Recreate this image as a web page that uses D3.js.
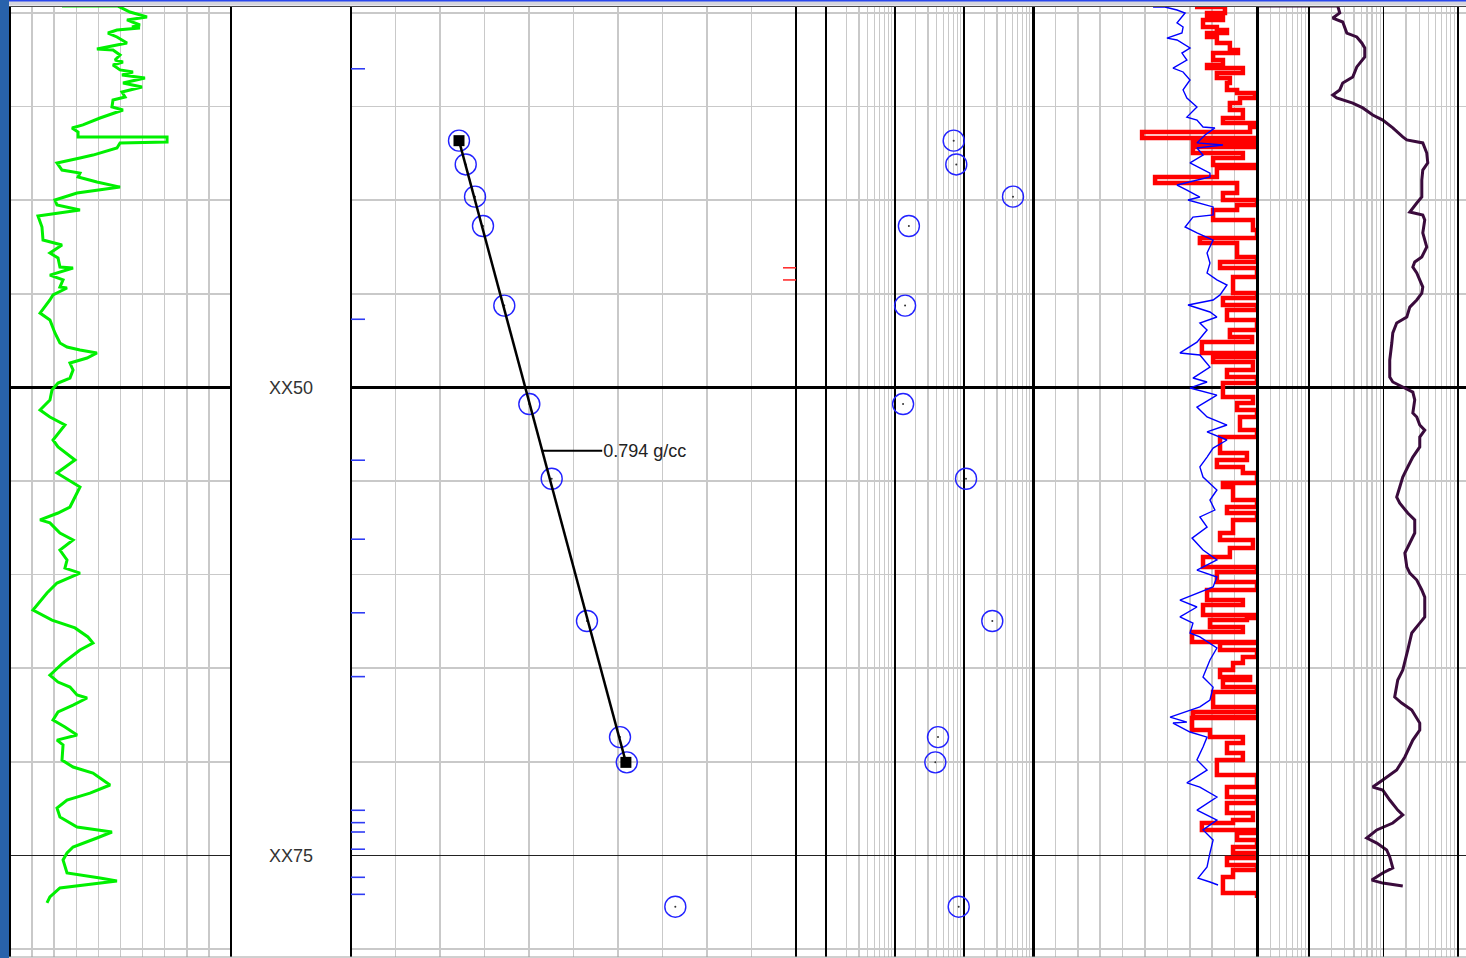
<!DOCTYPE html>
<html>
<head>
<meta charset="utf-8">
<script src="https://cdn.jsdelivr.net/npm/d3@7"></script>
<style>
  html, body { margin: 0; padding: 0; background: #fff; overflow: hidden; }
  svg { display: block; }
</style>
</head>
<body>
<svg id="log" width="1466" height="958"></svg>
<script>
// ---------- data ----------
// depth reference lines (m) and the depth-track labels
const gridDepths = [30, 35, 40, 45, 50, 55, 60, 65, 70, 75, 80];
const labelDepths = [50, 75];
const labelTexts = ["XX50", "XX75"];

// formation tester stations: depth (m), formation pressure (psi), mobility (md/cP)
const testDepth = [36.82, 38.09, 39.81, 41.38, 45.63, 50.89, 54.88, 62.48, 68.68, 70.03, 77.74];
const testPressure = [4024.27, 4025.78, 4027.87, 4029.66, 4034.45, 4040.07, 4045.10, 4053.03, 4060.45, 4061.97, 4072.88];
const testMobility = [70.9, 77.3, 513, 15.9, 14.0, 13.1, 107, 257, 42.0, 38.4, 83.8];

// fluid gradient fitted through stations 1..10
const gradientGcc = 0.794;
const fitFirst = 0, fitLast = 9;

// tool depth flags along the pressure track
const blueFlagDepths = [32.98, 46.36, 53.89, 58.11, 62.04, 65.45, 72.59, 73.25, 73.75, 74.67, 76.17, 77.08];
const redFlagDepths = [43.61, 44.26];

// gamma ray [depth, API]
const gammaRay = [
  [29.63,35.3],[29.63,73.3],[29.95,81.4],[30.21,93.0],[30.37,79.4],[30.64,88.2],[30.75,82.8],[30.80,88.2],
  [30.91,72.6],[31.07,66.5],[31.28,72.6],[31.60,79.4],[31.92,59.0],[31.98,69.9],[32.24,74.7],[32.51,71.3],
  [32.62,76.7],[32.78,69.9],[33.04,74.7],[33.15,83.5],[33.31,76.0],[33.47,91.6],[33.74,76.7],[33.95,89.6],
  [34.22,76.0],[34.49,78.1],[34.65,69.9],[35.02,69.2],[35.18,76.7],[35.61,61.1],[35.98,49.5],[36.14,42.1],
  [36.36,46.2],[36.62,46.2],[36.62,106.6],[36.89,106.6],[36.94,74.7],[37.21,72.6],[37.59,56.3],[37.75,47.5],
  [38.01,31.9],[38.39,35.3],[38.55,47.5],[38.76,46.2],[39.03,59.0],[39.30,74.7],[39.62,45.5],[39.99,30.5],
  [40.26,31.9],[40.52,47.5],[40.84,19.0],[41.43,21.7],[42.13,22.4],[42.39,35.3],[42.82,27.1],[43.09,32.6],
  [43.57,33.9],[43.62,42.8],[44.00,27.1],[44.26,36.0],[44.64,33.9],[44.69,38.7],[45.06,29.2],[45.33,27.1],
  [46.03,20.4],[46.40,27.1],[47.09,30.5],[47.63,33.9],[47.84,38.7],[48.00,47.5],[48.16,59.0],[48.43,52.3],
  [48.70,40.7],[49.07,42.8],[49.50,40.7],[49.77,32.6],[50.14,28.5],[50.67,27.1],[51.21,20.4],[51.58,27.1],
  [52.01,37.3],[52.81,29.2],[53.18,32.6],[53.88,44.1],[54.57,31.9],[55.32,47.5],[56.39,40.7],[56.71,32.6],
  [57.08,20.4],[57.24,27.1],[57.78,33.9],[58.15,42.8],[58.69,33.9],[59.22,38.7],[59.65,37.3],[59.92,47.5],
  [60.45,31.9],[60.98,25.1],[61.89,15.6],[62.43,28.5],[62.85,44.1],[63.33,52.9],[63.66,56.3],[64.03,47.5],
  [64.72,36.0],[65.37,27.1],[65.74,32.6],[66.01,40.7],[66.43,45.5],[66.59,52.3],[66.97,42.8],[67.34,32.6],
  [67.77,29.2],[68.14,37.3],[68.57,45.5],[68.84,31.9],[69.10,36.0],[69.91,35.3],[70.28,42.8],[70.60,56.3],
  [71.24,67.9],[71.67,54.3],[72.04,38.7],[72.47,31.9],[72.95,33.9],[73.48,45.5],[73.75,69.2],[74.07,59.0],
  [74.55,42.8],[74.87,38.7],[75.24,36.0],[75.94,38.7],[76.21,61.1],[76.37,72.6],[76.74,33.9],[77.22,27.1],
  [77.54,25.1]
];

// track 4, thin blue curve [depth, value]
const curveBlue = [
  [29.68,53.6],[29.68,58.9],[29.84,64.3],[30.00,67.9],[30.53,64.3],[30.75,67.0],[31.07,66.5],[31.34,59.8],
  [31.44,64.3],[31.87,70.1],[32.14,66.5],[32.51,68.7],[32.94,62.5],[33.15,67.0],[33.58,70.1],[34.11,67.0],
  [34.54,68.7],[35.02,73.2],[35.56,68.7],[35.72,73.2],[36.09,75.9],[36.14,81.2],[36.52,76.8],[36.94,73.2],
  [37.05,84.8],[37.21,73.2],[37.59,75.9],[38.01,70.1],[38.55,79.0],[38.76,79.0],[39.19,64.3],[39.46,68.7],
  [39.83,74.5],[39.99,69.2],[40.36,80.4],[40.79,80.4],[40.90,71.4],[41.43,67.9],[41.75,73.2],[42.13,80.4],
  [42.82,77.7],[43.36,79.0],[43.89,77.7],[44.26,82.1],[44.53,86.6],[45.06,83.5],[45.33,80.4],[45.60,69.2],
  [45.97,79.0],[46.24,82.1],[46.56,74.5],[46.93,77.7],[47.58,73.2],[48.16,65.6],[48.27,74.5],[48.91,79.0],
  [49.50,71.4],[49.71,77.7],[50.03,70.1],[50.41,82.1],[51.05,73.2],[51.58,77.7],[52.01,86.6],[52.38,77.7],
  [52.81,86.6],[53.24,80.4],[53.72,77.7],[54.25,74.5],[54.79,75.9],[55.48,82.1],[56.02,79.0],[56.55,81.2],
  [56.92,74.5],[57.46,77.7],[58.05,71.0],[58.69,75.9],[59.22,82.1],[59.76,73.2],[60.13,82.1],[60.66,80.4],
  [61.36,65.6],[61.73,73.2],[62.26,65.6],[62.59,71.4],[63.12,70.1],[63.33,74.5],[63.92,82.1],[64.56,79.0],
  [65.47,75.9],[66.01,80.4],[66.70,79.0],[67.07,74.5],[67.61,61.2],[67.88,68.7],[67.93,62.5],[68.41,70.1],
  [68.68,77.7],[69.21,75.9],[69.90,73.2],[70.44,77.7],[71.13,68.7],[71.35,74.5],[71.88,82.1],[72.58,73.2],
  [73.11,82.1],[73.64,75.9],[74.18,80.4],[74.87,79.0],[75.62,77.7],[76.21,73.7],[76.42,79.0],[76.58,82.6]
];

// track 4, thick red curve [depth, value]
const curveRed = [
  [29.68,72.3],[29.68,80.4],[30.00,85.7],[30.21,77.7],[30.37,84.8],[30.75,75.9],[30.91,82.1],[31.07,86.6],
  [31.28,77.7],[31.60,82.1],[31.98,87.9],[32.14,91.5],[32.51,80.4],[32.78,84.8],[32.94,77.7],[33.21,93.7],
  [33.47,82.1],[33.74,87.9],[34.11,86.6],[34.27,91.1],[34.54,99.1],[34.81,92.4],[35.18,87.9],[35.61,93.7],
  [35.88,84.8],[36.09,100],[36.36,96.9],[36.68,48.7],[36.78,100],[36.94,71.4],[37.16,100],[37.48,71.4],
  [37.75,93.7],[38.12,80.4],[38.28,100],[38.76,82.1],[39.08,54.5],[39.62,91.1],[39.99,84.8],[40.26,100],
  [40.52,91.1],[41.06,80.4],[41.59,98.2],[42.02,100],[42.29,74.5],[43.03,91.1],[43.30,100],[43.62,83.5],
  [44.10,100],[44.96,89.3],[45.22,100],[45.60,84.8],[45.87,100],[46.40,86.6],[46.93,100],[47.31,87.9],
  [47.58,97.8],[48.16,75.4],[48.38,100],[48.64,80.4],[49.07,98.2],[49.45,86.6],[49.77,100],[50.51,84.8],
  [50.83,98.2],[51.21,91.1],[51.58,100],[52.28,92.4],[52.65,100],[53.50,83.5],[53.88,95.5],[54.25,82.1],
  [54.57,93.7],[55.11,100],[55.32,84.8],[56.02,89.3],[56.39,100],[56.71,86.6],[57.08,100],[57.78,89.3],
  [58.15,83.5],[58.58,98.2],[59.06,87.9],[59.59,75.9],[59.86,100],[60.40,82.1],[60.82,100],[61.36,77.7],
  [61.62,93.7],[62.16,75.9],[62.32,100],[62.43,95.5],[62.80,79.0],[63.07,93.7],[63.60,71.0],[63.66,100],
  [64.03,83.5],[64.40,100],[64.72,93.7],[65.10,89.3],[65.47,83.5],[65.63,96.9],[66.01,84.8],[66.27,100],
  [67.07,80.4],[67.34,100],[67.61,71.4],[67.66,100],[68.30,71.0],[68.68,79.0],[69.00,93.7],[69.53,86.6],
  [69.90,93.7],[70.71,82.1],[71.35,100],[71.88,86.6],[72.20,100],[72.74,86.6],[73.11,98.2],[73.27,89.3],
  [73.64,75.4],[73.80,100],[74.18,91.1],[74.55,100],[74.87,89.3],[75.14,100],[75.51,86.6],[75.78,100],
  [76.16,89.3],[77.01,84.8],[77.28,100]
];

// track 5, resistivity [depth, ohm.m]
const resistivity = [
  [29.63,2.0],[29.63,24.3],[30.00,25.8],[30.27,20.8],[30.48,28.3],[31.07,32.1],[31.28,43.7],[31.60,51.0],
  [31.87,55.9],[32.35,55.9],[32.88,43.7],[33.42,38.6],[33.74,28.3],[34.11,25.8],[34.38,20.8],[34.54,23.5],
  [34.81,38.6],[35.07,52.6],[35.45,71.6],[35.72,97.5],[36.14,133],[36.62,181],[36.78,205],[36.94,336],
  [37.48,380],[38.01,392],[38.39,336],[38.92,326],[39.83,326],[40.15,279],[40.63,225],[40.79,336],
  [41.06,357],[41.75,336],[42.50,380],[43.03,326],[43.30,262],[43.57,247],[43.89,279],[44.64,336],
  [44.96,326],[45.33,279],[45.71,225],[46.24,205],[46.56,150],[47.09,133],[47.63,129],[48.54,121],
  [49.45,121],[49.71,133],[49.98,181],[50.25,247],[50.67,262],[51.37,247],[51.58,279],[52.01,306],
  [52.28,357],[52.65,306],[53.18,306],[53.72,247],[54.25,211],[54.79,181],[55.32,165],[55.86,150],
  [56.18,165],[56.71,211],[57.08,262],[57.78,262],[58.31,225],[58.85,193],[59.59,205],[59.92,225],
  [60.29,279],[60.82,326],[61.20,357],[61.89,357],[62.26,357],[62.59,306],[63.12,239],[64.03,211],
  [65.10,181],[65.63,155],[66.54,141],[66.86,175],[67.23,239],[67.93,306],[68.30,306],[68.84,247],
  [69.74,193],[70.44,150],[70.97,97.5],[71.35,71.6],[71.51,97.5],[72.04,121],[72.58,155],[72.84,181],
  [73.27,133],[73.64,81.1],[74.07,59.5],[74.34,81.1],[74.71,110],[75.08,121],[75.67,133],[75.94,97.5],
  [76.32,69.5],[76.48,97.5],[76.64,181]
];

// ---------- layout ----------
const svg = d3.select("#log");
const W = 1466, H = 958;
const TOP = 6.5, BOTTOM = 957;

const y = d3.scaleLinear().domain([30, 80]).range([13, 949]);
const xGR = d3.scaleLinear().domain([0, 150]).range([10, 231]);
const xP = d3.scaleLinear().domain([4000, 4100]).range([351, 796]);
const xMob = d3.scaleLog().domain([1, 1000]).range([826, 1033]);
const xT4 = d3.scaleLinear().domain([0, 100]).range([1033, 1257]);
const xRes = d3.scaleLog().domain([2, 2000]).range([1257, 1480.5]);

const GRID = "#c9c9c9";

svg.append("rect").attr("width", W).attr("height", H).attr("fill", "#fff");

const grid = svg.append("g").attr("shape-rendering", "crispEdges");

function vline(g, x, stroke, w) {
  g.append("line").attr("x1", x).attr("x2", x).attr("y1", TOP).attr("y2", BOTTOM)
    .attr("stroke", stroke).attr("stroke-width", w);
}

// linear track verticals
d3.range(1, 10).forEach(i => {
  vline(grid, xGR(i * 15), GRID, 1.5);
  vline(grid, xP(4000 + i * 10), GRID, 1.5);
  vline(grid, xT4(i * 10), GRID, 1.5);
});

// log track verticals
function logGrid(scale, lo, hi) {
  const [a, b] = scale.domain();
  for (let dec = lo; dec < hi; dec *= 10) {
    for (let m = 2; m <= 9; m++) {
      const v = dec * m;
      if (v <= a || v >= b) continue;
      vline(grid, scale(v), GRID, 1.2);
    }
  }
}
logGrid(xMob, 1, 1000);
logGrid(xRes, 1, 10000);

// horizontal depth lines
const hSpans = [[10, 231], [351, W]];
gridDepths.filter(d => d % 25 !== 0).forEach(d => {
  hSpans.forEach(([a, b]) => {
    grid.append("line").attr("x1", a).attr("x2", b).attr("y1", y(d)).attr("y2", y(d))
      .attr("stroke", GRID).attr("stroke-width", 1.5);
  });
});
gridDepths.filter(d => d % 25 === 0).forEach(d => {
  hSpans.forEach(([a, b]) => {
    grid.append("line").attr("x1", a).attr("x2", b).attr("y1", y(d)).attr("y2", y(d))
      .attr("stroke", d % 50 === 0 ? "#000" : "#222")
      .attr("stroke-width", d % 50 === 0 ? 2.5 : 1.5);
  });
});

// ---------- curves ----------
const clip = (id, x0, x1) => {
  svg.append("clipPath").attr("id", id).append("rect")
    .attr("x", x0).attr("y", TOP).attr("width", x1 - x0).attr("height", BOTTOM - TOP);
  return `url(#${id})`;
};

const curveLayer = svg.append("g");

function drawCurve(data, xs, color, width, clipId, x0, x1, curve) {
  const line = d3.line().x(p => xs(Math.min(p[1], xs.domain()[1])))
    .y(p => y(p[0])).curve(curve || d3.curveLinear);
  curveLayer.append("path").datum(data)
    .attr("clip-path", clip(clipId, x0, x1))
    .attr("d", line).attr("fill", "none")
    .attr("stroke", color).attr("stroke-width", width)
    .attr("stroke-linejoin", "miter").attr("stroke-miterlimit", 2);
}

drawCurve(gammaRay, xGR, "#00f000", 3, "c-gr", 10, 231);
drawCurve(curveRed, xT4, "#ff0000", 4.5, "c-red", 1033, 1257, d3.curveStepAfter);
drawCurve(curveBlue, xT4, "#0000ff", 1.4, "c-blue", 1033, 1257);
drawCurve(resistivity, xRes, "#3a0b3c", 3, "c-res", 1257, W);

// ---------- track borders ----------
const borders = svg.append("g").attr("shape-rendering", "crispEdges");
[[10, 2.5], [231, 2.5], [351, 2.5], [796, 2.5], [826, 2.5], [xMob(10), 2.5], [xMob(100), 1.5],
 [1033, 3], [1257, 3], [xRes(10), 1.2], [xRes(100), 1.6], [xRes(1000), 1.6]]
  .forEach(([x, w]) => vline(borders, x, "#000", w));

// header strip
svg.append("rect").attr("x", 0).attr("y", 0).attr("width", W).attr("height", 5.5).attr("fill", "#d6d6de");
svg.append("line").attr("x1", 0).attr("x2", W).attr("y1", 0.8).attr("y2", 0.8)
  .attr("stroke", "#2a48ee").attr("stroke-width", 1.6);
svg.append("line").attr("x1", 0).attr("x2", W).attr("y1", TOP).attr("y2", TOP)
  .attr("stroke", "#4a4a4a").attr("stroke-width", 1);
svg.append("line").attr("x1", 0).attr("x2", W).attr("y1", BOTTOM).attr("y2", BOTTOM)
  .attr("stroke", "#a0a0a0").attr("stroke-width", 1);

// left frame bar
svg.append("rect").attr("x", 0).attr("y", 0).attr("width", 9).attr("height", H).attr("fill", "#2862ab");

// ---------- depth labels ----------
svg.append("g").selectAll("text").data(labelDepths).join("text")
  .attr("x", 291).attr("y", d => y(d)).attr("dy", "0.35em")
  .attr("text-anchor", "middle")
  .attr("font-family", "'Liberation Sans', Arial, sans-serif").attr("font-size", 18)
  .attr("fill", "#333")
  .text((d, i) => labelTexts[i]);

// ---------- tool flags ----------
svg.append("g").selectAll("line").data(blueFlagDepths).join("line")
  .attr("x1", xP(4000)).attr("x2", xP(4000) + 14)
  .attr("y1", d => y(d)).attr("y2", d => y(d))
  .attr("stroke", "#2f3cf5").attr("stroke-width", 1.6);
svg.append("g").selectAll("line").data(redFlagDepths).join("line")
  .attr("x1", xP(4100) - 13).attr("x2", xP(4100))
  .attr("y1", d => y(d)).attr("y2", d => y(d))
  .attr("stroke", "#ff3030").attr("stroke-width", 1.6);

// ---------- pressure stations and gradient ----------
const PSI_PER_M = 1.42233; // psi per metre for 1 g/cc
const d0 = testDepth[fitFirst];
const pFit = d => testPressure[fitFirst] + gradientGcc * PSI_PER_M * (d - d0);

const stations = testDepth.map((d, i) => ({ d, p: testPressure[i], m: testMobility[i] }));

function drawStations(g, xs, key) {
  g.selectAll("circle.st").data(stations).join("circle").attr("class", "st")
    .attr("cx", s => xs(s[key])).attr("cy", s => y(s.d)).attr("r", 10.5)
    .attr("fill", "none").attr("stroke", "#2222ff").attr("stroke-width", 1.4);
  g.selectAll("circle.dot").data(stations).join("circle").attr("class", "dot")
    .attr("cx", s => xs(s[key])).attr("cy", s => y(s.d)).attr("r", 1)
    .attr("fill", "#333");
}
drawStations(svg.append("g"), xP, "p");
drawStations(svg.append("g"), xMob, "m");

const dA = testDepth[fitFirst], dB = testDepth[fitLast];
const gLine = svg.append("g");
gLine.append("line")
  .attr("x1", xP(pFit(dA))).attr("y1", y(dA))
  .attr("x2", xP(pFit(dB))).attr("y2", y(dB))
  .attr("stroke", "#000").attr("stroke-width", 2.5);
gLine.selectAll("rect").data([dA, dB]).join("rect")
  .attr("x", d => xP(pFit(d)) - 5.5).attr("y", d => y(d) - 5.5)
  .attr("width", 11).attr("height", 11).attr("fill", "#000");

// gradient annotation
const dLab = 53.38;
const lx = xP(pFit(dLab));
gLine.append("line").attr("x1", lx).attr("x2", lx + 60)
  .attr("y1", y(dLab)).attr("y2", y(dLab))
  .attr("stroke", "#000").attr("stroke-width", 2);
gLine.append("text").attr("x", lx + 61).attr("y", y(dLab)).attr("dy", "0.35em")
  .attr("font-family", "'Liberation Sans', Arial, sans-serif").attr("font-size", 18)
  .attr("fill", "#222")
  .text(`${gradientGcc.toFixed(3)} g/cc`);
</script>
</body>
</html>
